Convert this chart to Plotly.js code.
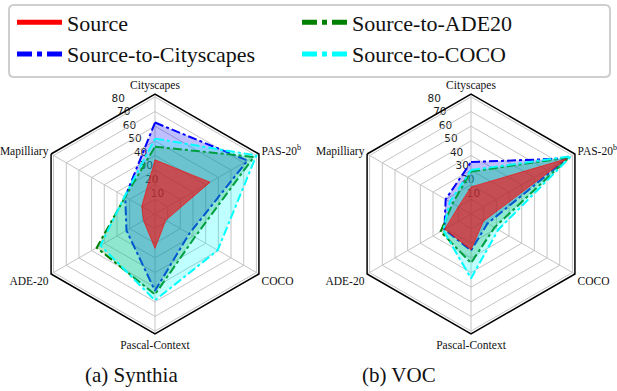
<!DOCTYPE html>
<html>
<head>
<meta charset="utf-8">
<script src="https://cdn.plot.ly/plotly-3.0.1.min.js"></script>
<style>html,body{margin:0;padding:0;background:#fff;}#chart{width:617px;height:391px;}</style>
</head>
<body>
<div id="chart"></div>
<script>
// Categories (clockwise from top)
const categories = ["Cityscapes", "PAS-20<sup>b</sup>", "COCO", "Pascal-Context", "ADE-20", "Mapilliary"];
const radialTicks = [10, 20, 30, 40, 50, 60, 70, 80];
const seriesNames = ["Source", "Source-to-Cityscapes", "Source-to-ADE20", "Source-to-COCO"];
const captions = ["(a) Synthia", "(b) VOC"];

// (a) Synthia
const synthiaSource      = [37, 43.5, 8.5, 23.5, 9, 10.5];
const synthiaToCity      = [62.5, 73, 27, 52.5, 22.5, 23.5];
const synthiaToADE       = [46, 78, 31.5, 55, 46, 23.5];
const synthiaToCOCO      = [51.5, 80, 49.5, 59, 43, 24];

// (b) VOC
const vocSource          = [18.5, 75.5, 9.8, 24.5, 20.7, 10];
const vocToCity          = [35.5, 76, 13, 25, 21, 20];
const vocToADE           = [29, 77.5, 18.5, 33.5, 24, 14.5];
const vocToCOCO          = [30, 79, 21.5, 44, 22, 16.7];

const styles = {
  "Source":               {line: "rgba(255,0,0,0.6)", legendLine: "#ff0000", fill: "rgba(255,0,0,0.6)", dash: "solid", width: 1, legend: "legend"},
  "Source-to-Cityscapes": {line: "#0000ff", legendLine: "#0000ff", fill: "rgba(0,0,255,0.25)", dash: "dashdot", width: 2, legend: "legend"},
  "Source-to-ADE20":      {line: "#008000", legendLine: "#008000", fill: "rgba(0,128,0,0.25)", dash: "dashdot", width: 2, legend: "legend2"},
  "Source-to-COCO":       {line: "#00ffff", legendLine: "#00ffff", fill: "rgba(0,255,255,0.25)", dash: "dashdot", width: 2, legend: "legend2"}
};

function closed(a) { return a.concat([a[0]]); }

const traces = [];
// helper subplots that only carry the radial tick labels (a single centre point, draws nothing)
["polar", "polar3"].forEach(function(sp) {
  traces.push({type: "scatterpolar", subplot: sp, mode: "lines", r: [0], theta: [0],
               line: {width: 0, color: "rgba(0,0,0,0)"}, showlegend: false, hoverinfo: "skip"});
});
function addSeries(sub, name, values) {
  const s = styles[name];
  traces.push({
    type: "scatterpolar", subplot: sub, mode: "lines",
    r: closed(values), theta: closed(categories),
    fill: "toself", fillcolor: s.fill,
    line: {color: s.line, width: s.width, dash: s.dash},
    name: name, showlegend: false, hoverinfo: "skip"
  });
}
// polar = radial tick labels (a), polar2 = data (a), polar3 = labels (b), polar4 = data (b)
addSeries("polar2", "Source-to-Cityscapes", synthiaToCity);
addSeries("polar2", "Source-to-ADE20", synthiaToADE);
addSeries("polar2", "Source-to-COCO", synthiaToCOCO);
addSeries("polar2", "Source", synthiaSource);
addSeries("polar4", "Source-to-Cityscapes", vocToCity);
addSeries("polar4", "Source-to-ADE20", vocToADE);
addSeries("polar4", "Source-to-COCO", vocToCOCO);
addSeries("polar4", "Source", vocSource);

// legend entries: a single centre point, so nothing is drawn on the chart
seriesNames.forEach(function(n) {
  const s = styles[n];
  traces.push({
    type: "scatterpolar", subplot: "polar2", mode: "lines", r: [0], theta: [categories[0]],
    line: {color: s.legendLine, width: 5, dash: s.dash},
    name: n, showlegend: true, legend: s.legend, hoverinfo: "skip"
  });
});

const domY = [0.1458, 0.7596];
function dataPolar(domainX) {
  return {
    domain: {x: domainX, y: domY},
    gridshape: "linear",
    bgcolor: "rgba(0,0,0,0)",
    radialaxis: {
      range: [0, 82], tickvals: radialTicks, showticklabels: false, showline: false, ticks: "",
      gridcolor: "#c4c4c4", gridwidth: 1, layer: "below traces"
    },
    angularaxis: {
      rotation: 90, direction: "clockwise",
      showline: true, linecolor: "#000", linewidth: 1.5,
      gridcolor: "#c4c4c4", gridwidth: 1, ticks: "", layer: "below traces",
      tickfont: {family: "Liberation Serif", size: 11.5, color: "#111"}
    }
  };
}
const W = 617, H = 391;
const shiftX = -4 / W, shiftY = 7 / H;
function labelPolar(domainX) {
  return {
    domain: {x: [domainX[0] + shiftX, domainX[1] + shiftX], y: [domY[0] + shiftY, domY[1] + shiftY]},
    gridshape: "circular",
    bgcolor: "rgba(0,0,0,0)",
    radialaxis: {
      visible: true, range: [0, 82], tickvals: radialTicks, ticktext: radialTicks.map(String),
      angle: 112.5, tickangle: 112.5, showline: false, showgrid: false, ticks: "",
      tickfont: {family: "DejaVu Sans", size: 10.5, color: "#222"}
    },
    angularaxis: {showline: false, showgrid: false, showticklabels: false, ticks: "",
                  rotation: 90, direction: "clockwise"}
  };
}

function px(x) { return x / W; }
function py(y) { return 1 - y / H; }
const x0 = 9, x1 = 610, y0 = 5, y1 = 77, rr = 5;
const legendBox = "M" + px(x0 + rr) + "," + py(y0) +
  " L" + px(x1 - rr) + "," + py(y0) +
  " Q" + px(x1) + "," + py(y0) + " " + px(x1) + "," + py(y0 + rr) +
  " L" + px(x1) + "," + py(y1 - rr) +
  " Q" + px(x1) + "," + py(y1) + " " + px(x1 - rr) + "," + py(y1) +
  " L" + px(x0 + rr) + "," + py(y1) +
  " Q" + px(x0) + "," + py(y1) + " " + px(x0) + "," + py(y1 - rr) +
  " L" + px(x0) + "," + py(y0 + rr) +
  " Q" + px(x0) + "," + py(y0) + " " + px(x0 + rr) + "," + py(y0) + " Z";

const legendFont = {family: "Liberation Serif", size: 22, color: "#111"};
const domA = [0.0567, 0.4457], domB = [0.5689, 0.9579];
const layout = {
  width: W, height: H,
  margin: {l: 0, r: 0, t: 0, b: 0},
  paper_bgcolor: "#fff",
  showlegend: true,
  polar: labelPolar(domA),
  polar2: dataPolar(domA),
  polar3: labelPolar(domB),
  polar4: dataPolar(domB),
  legend: {
    orientation: "v", x: px(12), y: py(1.5), xanchor: "left", yanchor: "top",
    itemwidth: 45, font: legendFont, bgcolor: "rgba(0,0,0,0)", borderwidth: 0
  },
  legend2: {
    orientation: "v", x: px(297), y: py(1.5), xanchor: "left", yanchor: "top",
    itemwidth: 45, font: legendFont, bgcolor: "rgba(0,0,0,0)", borderwidth: 0
  },
  shapes: [{type: "path", xref: "paper", yref: "paper", path: legendBox,
            line: {color: "#cfcfcf", width: 2}, fillcolor: "rgba(0,0,0,0)"}],
  annotations: [
    {text: captions[0], x: px(131), y: py(375), xref: "paper", yref: "paper", showarrow: false,
     xanchor: "center", yanchor: "middle", font: {family: "Liberation Serif", size: 21, color: "#111"}},
    {text: captions[1], x: px(399), y: py(375), xref: "paper", yref: "paper", showarrow: false,
     xanchor: "center", yanchor: "middle", font: {family: "Liberation Serif", size: 21, color: "#111"}}
  ]
};

Plotly.newPlot("chart", traces, layout, {staticPlot: true, displayModeBar: false});
</script>
</body>
</html>
